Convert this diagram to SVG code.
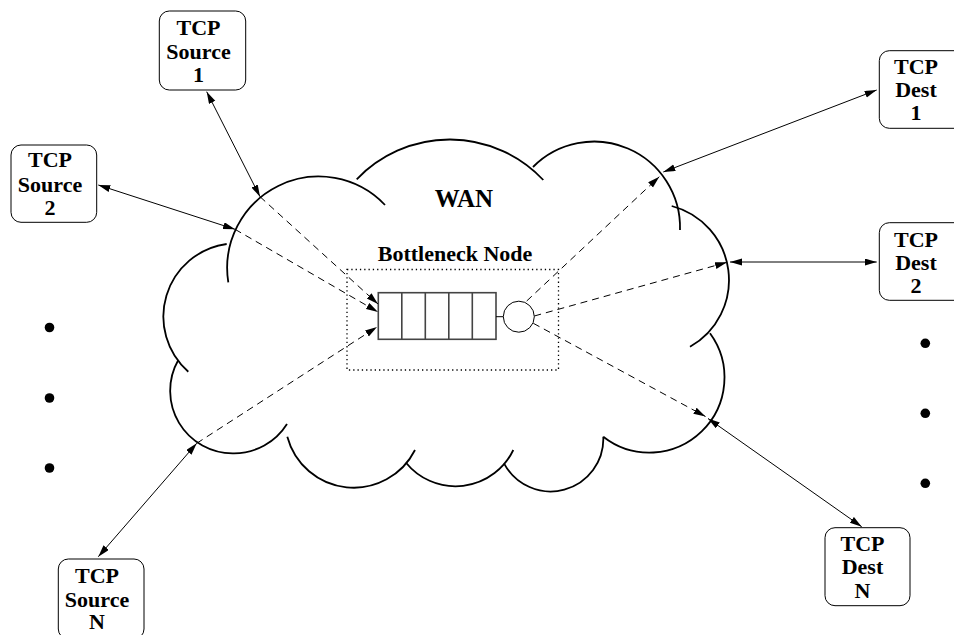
<svg xmlns="http://www.w3.org/2000/svg" width="954" height="635" viewBox="0 0 954 635">
<style>
.cloud{fill:none;stroke:#000;stroke-width:1.8}
.box{fill:#fff;stroke:#000;stroke-width:1}
.t{font-family:"Liberation Serif","Times New Roman",serif;font-weight:bold;font-size:22px;text-anchor:middle;fill:#000}
.solid{stroke:#000;stroke-width:1;fill:none;marker-start:url(#ah);marker-end:url(#ah)}
.dash{stroke:#000;stroke-width:1;fill:none;stroke-dasharray:7 5}
.dashA{stroke:#000;stroke-width:1;fill:none;stroke-dasharray:7 5;marker-end:url(#ah)}
.q{fill:#fff;stroke:#444;stroke-width:1.6}
</style>
<defs>
<marker id="ah" markerUnits="userSpaceOnUse" markerWidth="13" markerHeight="8" refX="12" refY="3.5" orient="auto-start-reverse">
<path d="M0,0 L12,3.5 L0,7 z" fill="#000"/>
</marker>
</defs>
<rect width="954" height="635" fill="#fff"/>
<g id="wan-cloud">
<path class="cloud" d="M228.3,282.3 A91.5,91.5 0 0 1 385,205"/>
<path class="cloud" d="M356.7,179.3 A128.5,128.5 0 0 1 543.3,180"/>
<path class="cloud" d="M533,167 A86,86 0 0 1 680,230"/>
<path class="cloud" d="M671.7,206 A76.5,76.5 0 0 1 690,346.7"/>
<path class="cloud" d="M710,333.3 A75,75 0 0 1 603.3,436.7"/>
<path class="cloud" d="M603.3,436.7 A52.7,52.7 0 0 1 504,463.3"/>
<path class="cloud" d="M513.3,450 A64,64 0 0 1 406,462.7"/>
<path class="cloud" d="M415,450 A68.7,68.7 0 0 1 287.3,436.7"/>
<path class="cloud" d="M287,424 A62.5,62.5 0 0 1 234,453.3 A62.5,62.5 0 0 1 178.3,360"/>
<path class="cloud" d="M188.3,371.7 A73.3,73.3 0 0 1 226.7,244"/>
<text class="t" x="464" y="207" style="font-size:25px">WAN</text>
</g>
<g id="bottleneck">
<rect x="347" y="269.5" width="211.5" height="100.5" fill="none" stroke="#000" stroke-width="1.3" stroke-dasharray="1.3 3"/>
<text class="t" x="455" y="261">Bottleneck Node</text>
<rect class="q" x="378.3" y="292.7" width="117.7" height="46.6"/>
<path d="M401.8,292.7V339.3M425.3,292.7V339.3M448.8,292.7V339.3M472.3,292.7V339.3" stroke="#444" stroke-width="1.6"/>
<line x1="496" y1="316.7" x2="503.3" y2="316.7" stroke="#000" stroke-width="1"/>
<circle cx="518.8" cy="316.7" r="15.5" fill="#fff" stroke="#000" stroke-width="1"/>
</g>
<g id="src1">
<rect class="box" x="159.3" y="11" width="86.4" height="79" rx="10"/>
<text class="t" x="198.5" y="35">TCP</text>
<text class="t" x="198.5" y="59">Source</text>
<text class="t" x="198.5" y="82">1</text>
</g>
<g id="src2">
<rect class="box" x="11" y="145" width="85.7" height="77.3" rx="10"/>
<text class="t" x="50" y="167">TCP</text>
<text class="t" x="50" y="191.5">Source</text>
<text class="t" x="50" y="214.5">2</text>
</g>
<g id="srcN">
<rect class="box" x="58.3" y="559" width="85.7" height="80" rx="10"/>
<text class="t" x="97" y="583.3">TCP</text>
<text class="t" x="97" y="606.7">Source</text>
<text class="t" x="97" y="629">N</text>
</g>
<g id="dst1">
<rect class="box" x="879.3" y="50.7" width="87" height="77.6" rx="10"/>
<text class="t" x="916" y="74">TCP</text>
<text class="t" x="916" y="97.3">Dest</text>
<text class="t" x="916" y="120">1</text>
</g>
<g id="dst2">
<rect class="box" x="879.3" y="222.7" width="87" height="77.6" rx="10"/>
<text class="t" x="916" y="246.7">TCP</text>
<text class="t" x="916" y="269.5">Dest</text>
<text class="t" x="916" y="292.7">2</text>
</g>
<g id="dstN">
<rect class="box" x="825" y="527.7" width="85" height="78" rx="10"/>
<text class="t" x="862.5" y="550.7">TCP</text>
<text class="t" x="862.5" y="574">Dest</text>
<text class="t" x="862.5" y="597.5">N</text>
</g>
<g id="ellipsis" fill="#000">
<circle cx="49.5" cy="327.5" r="4.8"/>
<circle cx="49.5" cy="398" r="4.8"/>
<circle cx="49.5" cy="468" r="4.8"/>
<circle cx="925.3" cy="343.3" r="4.8"/>
<circle cx="925.3" cy="413.3" r="4.8"/>
<circle cx="925.3" cy="483.3" r="4.8"/>
</g>
<g id="connectors">
<line class="solid" x1="206.7" y1="91.7" x2="260" y2="196.7"/>
<line class="dashA" x1="260" y1="196.7" x2="378" y2="304"/>
<line class="solid" x1="98.3" y1="185" x2="235" y2="229.3"/>
<line class="dashA" x1="235" y1="229.3" x2="378" y2="312"/>
<line class="solid" x1="98.3" y1="556.7" x2="196.7" y2="443.3"/>
<line class="dashA" x1="196.7" y1="443.3" x2="377" y2="327"/>
<line class="dashA" x1="526.7" y1="301" x2="659.3" y2="176.7"/>
<line class="solid" x1="663.3" y1="172" x2="876.7" y2="90"/>
<line class="dashA" x1="534.3" y1="316" x2="727" y2="262.3"/>
<line class="solid" x1="730" y1="262" x2="876.7" y2="262"/>
<line class="dashA" x1="533.3" y1="323.3" x2="705.5" y2="416.5"/>
<line class="solid" x1="708" y1="418.5" x2="861.7" y2="526.7"/>
</g>
</svg>
